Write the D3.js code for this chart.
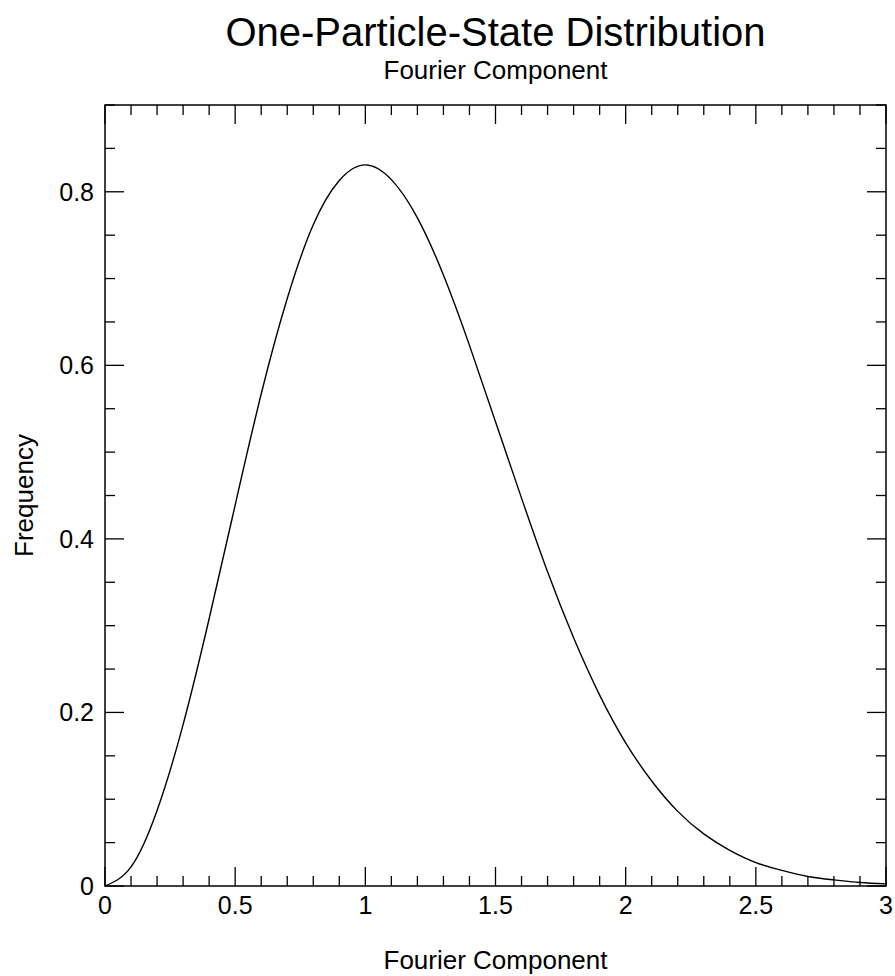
<!DOCTYPE html>
<html>
<head>
<meta charset="utf-8">
<script src="https://cdn.jsdelivr.net/npm/d3@7"></script>
<style>
  body { margin: 0; background: #fff; }
  text { font-family: "Liberation Sans", Arial, sans-serif; fill: #000; }
</style>
</head>
<body>
<script>
var width = 895,
    height = 976;

// values, step 0.1
var xs = [0, 0.1, 0.2, 0.3, 0.4, 0.5, 0.6, 0.7, 0.8, 0.9, 1.0,
          1.1, 1.2, 1.3, 1.4, 1.5, 1.6, 1.7, 1.8, 1.9, 2.0,
          2.1, 2.2, 2.3, 2.4, 2.5, 2.6, 2.7, 2.8, 2.9, 3.0];
var freq = [0, 0.022, 0.087, 0.186, 0.308, 0.439, 0.567, 0.677, 0.762, 0.813, 0.831,
            0.814, 0.770, 0.704, 0.623, 0.535, 0.447, 0.362, 0.286, 0.220, 0.165,
            0.121, 0.086, 0.060, 0.041, 0.027, 0.018, 0.011, 0.007, 0.004, 0.0025];

var xMajor = [0, 0.5, 1, 1.5, 2, 2.5, 3];
var xLabels = ["0", "0.5", "1", "1.5", "2", "2.5", "3"];
var yMajor = [0, 0.2, 0.4, 0.6, 0.8];
var yLabels = ["0", "0.2", "0.4", "0.6", "0.8"];

var title = "One-Particle-State Distribution",
    subtitle = "Fourier Component",
    xTitle = "Fourier Component",
    yTitle = "Frequency";

var margin = {left: 105, right: 9, top: 105, bottom: 90};

var svg = d3.select("body").append("svg")
    .attr("width", width)
    .attr("height", height);

var x = d3.scaleLinear().domain([0, 3]).range([margin.left, width - margin.right]);
var y = d3.scaleLinear().domain([0, 0.9]).range([height - margin.bottom, margin.top]);

var xMinor = d3.range(0, 31).map(function(i) { return i / 10; });
var yMinor = d3.range(0, 19).map(function(i) { return i / 20; });

// frame
svg.append("rect")
    .attr("x", x(0)).attr("y", y(0.9))
    .attr("width", x(3) - x(0)).attr("height", y(0) - y(0.9))
    .attr("fill", "none").attr("stroke", "#000").attr("stroke-width", 1.5);

function isMajor(v, list) {
    return list.some(function(m) { return Math.abs(m - v) < 1e-6; });
}

// inward ticks, all four sides
var g = svg.append("g").attr("stroke", "#000").attr("stroke-width", 1.3);
xMinor.forEach(function(v) {
    var len = isMajor(v, xMajor) ? 19 : 10;
    g.append("line").attr("x1", x(v)).attr("x2", x(v)).attr("y1", y(0)).attr("y2", y(0) - len);
    g.append("line").attr("x1", x(v)).attr("x2", x(v)).attr("y1", y(0.9)).attr("y2", y(0.9) + len);
});
yMinor.forEach(function(v) {
    var len = isMajor(v, yMajor) ? 19 : 10;
    g.append("line").attr("y1", y(v)).attr("y2", y(v)).attr("x1", x(0)).attr("x2", x(0) + len);
    g.append("line").attr("y1", y(v)).attr("y2", y(v)).attr("x1", x(3)).attr("x2", x(3) - len);
});

svg.selectAll(".xl").data(xMajor).enter().append("text")
    .attr("x", function(d) { return x(d); })
    .attr("y", y(0) + 28)
    .attr("text-anchor", "middle")
    .style("font-size", "25px")
    .text(function(d, i) { return xLabels[i]; });

svg.selectAll(".yl").data(yMajor).enter().append("text")
    .attr("x", x(0) - 11)
    .attr("y", function(d) { return y(d) + 9; })
    .attr("text-anchor", "end")
    .style("font-size", "25px")
    .text(function(d, i) { return yLabels[i]; });

// curve
var line = d3.line()
    .x(function(d, i) { return x(xs[i]); })
    .y(function(d) { return y(d); })
    .curve(d3.curveNatural);

svg.append("path")
    .datum(freq)
    .attr("d", line)
    .attr("fill", "none")
    .attr("stroke", "#000")
    .attr("stroke-width", 1.4);

var cx = (x(0) + x(3)) / 2;
svg.append("text").attr("x", cx).attr("y", 46)
    .attr("text-anchor", "middle").style("font-size", "40px").text(title);
svg.append("text").attr("x", cx).attr("y", 79)
    .attr("text-anchor", "middle").style("font-size", "26px").text(subtitle);
svg.append("text").attr("x", cx).attr("y", 969)
    .attr("text-anchor", "middle").style("font-size", "26px").text(xTitle);
svg.append("text")
    .attr("transform", "translate(33," + ((y(0) + y(0.9)) / 2) + ") rotate(-90)")
    .attr("text-anchor", "middle").style("font-size", "26px").text(yTitle);
</script>
</body>
</html>
